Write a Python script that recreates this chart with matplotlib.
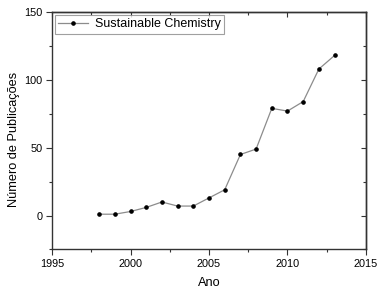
import matplotlib
matplotlib.use('Agg')
import matplotlib.pyplot as plt
from matplotlib.ticker import MultipleLocator

plt.rcParams['font.family'] = ['Liberation Sans', 'DejaVu Sans']

# Data
anos = [1998, 1999, 2000, 2001, 2002, 2003, 2004, 2005,
        2006, 2007, 2008, 2009, 2010, 2011, 2012, 2013]
publicacoes = [1, 1, 3, 6, 10, 7, 7, 13, 19, 45, 49, 79, 77, 84, 108, 118]

fig = plt.figure(figsize=(3.87, 2.93), dpi=100)
ax = fig.add_axes([0.1344, 0.1485, 0.8113, 0.8105])

ax.plot(anos, publicacoes, color='#8c8c8c', linewidth=0.9,
        marker='o', markersize=2.3, markerfacecolor='black',
        markeredgecolor='black', label='Sustainable Chemistry')

ax.set_xlim(1995, 2015)
ax.set_ylim(-25, 150)
ax.xaxis.set_major_locator(MultipleLocator(5))
ax.xaxis.set_minor_locator(MultipleLocator(2.5))
ax.yaxis.set_major_locator(MultipleLocator(50))
ax.yaxis.set_minor_locator(MultipleLocator(25))

ax.tick_params(which='both', direction='out', top=False, right=False,
               labelsize=7.8, width=0.8, color='#333333')
ax.tick_params(which='major', length=4, pad=3)
ax.tick_params(which='minor', length=2)

# inward ticks on the top and right spines
sec_x = ax.secondary_xaxis('top')
sec_x.xaxis.set_major_locator(MultipleLocator(5))
sec_x.xaxis.set_minor_locator(MultipleLocator(2.5))
sec_x.tick_params(which='both', direction='in', labeltop=False, width=0.8,
                  color='#333333')
sec_x.tick_params(which='major', length=3.5)
sec_x.tick_params(which='minor', length=2)
sec_y = ax.secondary_yaxis('right')
sec_y.yaxis.set_major_locator(MultipleLocator(50))
sec_y.yaxis.set_minor_locator(MultipleLocator(25))
sec_y.tick_params(which='both', direction='in', labelright=False, width=0.8,
                  color='#333333')
sec_y.tick_params(which='major', length=3.5)
sec_y.tick_params(which='minor', length=2)

for s in list(ax.spines.values()) + [sec_x.spines['top'], sec_y.spines['right']]:
    s.set_color('#333333')
    s.set_linewidth(1.0)

ax.set_xlabel('Ano', fontsize=9.2)
ax.xaxis.set_label_coords(0.5, -0.115)
ax.set_ylabel('Número de Publicações', fontsize=9.2)
ax.yaxis.set_label_coords(-0.102, 0.465)

leg = ax.legend(loc='upper left', fontsize=9, frameon=True, fancybox=False,
                borderaxespad=0.2, handlelength=2.4, borderpad=0.3,
                handletextpad=0.5)
leg.get_frame().set_edgecolor('#888888')
leg.get_frame().set_linewidth(0.8)

fig.savefig('out.png', dpi=100)
